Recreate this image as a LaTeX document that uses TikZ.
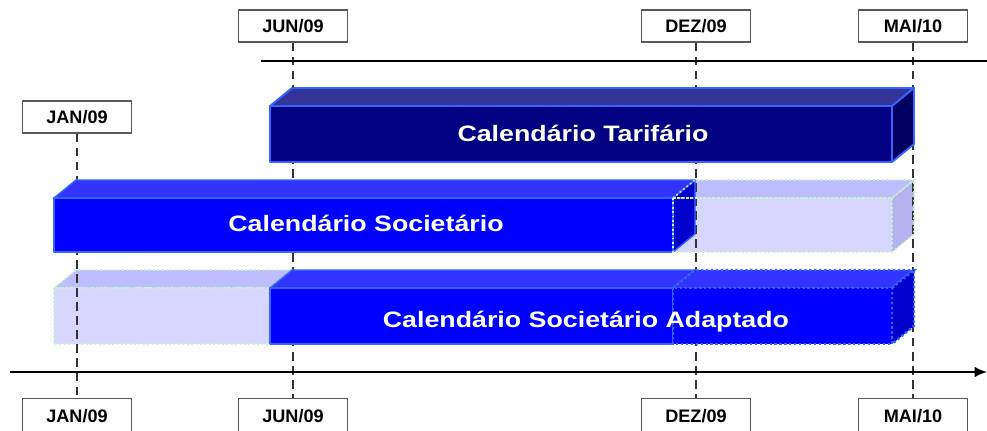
\documentclass[tikz,border=0pt]{standalone}
\usepackage{fontspec}
\setmainfont{Liberation Sans}
\usetikzlibrary{arrows.meta}

\definecolor{marinho}{HTML}{000080}
\definecolor{marinhoTopo}{HTML}{333399}
\definecolor{marinhoLado}{HTML}{00005E}
\definecolor{azul}{HTML}{0000FF}
\definecolor{azulTopo}{HTML}{3333FF}
\definecolor{azulLado}{HTML}{0000CC}
\definecolor{borda}{HTML}{3366FF}
\definecolor{claro}{HTML}{D6D6FF}
\definecolor{claroTopo}{HTML}{BDBDFF}
\definecolor{claroLado}{HTML}{B3B3F0}
\definecolor{verdeClaro}{HTML}{C8F5C8}

% bloco 3D: (#1,#2) canto frontal superior esquerdo, (#3,#4) canto frontal inferior direito
\newcommand{\caixa}[7]{%
  \path[#6] (#1,#2) -- (#1+22,#2-18) -- (#3+22,#2-18) -- (#3,#2) -- cycle;
  \path[#7] (#3,#2) -- (#3+22,#2-18) -- (#3+22,#4-18) -- (#3,#4) -- cycle;
  \path[#5] (#1,#2) rectangle (#3,#4);
}

\begin{document}
\begin{tikzpicture}[x=0.02cm,y=-0.02cm,
    data/.style={draw=gray!70!black,fill=white,line width=0.6pt,inner sep=0pt,
      minimum width=2.18cm,minimum height=0.64cm,font=\fontsize{10.3}{12}\selectfont\bfseries},
    guia/.style={black!80,line width=0.9pt,dash pattern=on 5pt off 3pt},
    rotulo/.style={text=white,anchor=base,xscale=1.2,font=\fontsize{12.7}{15}\selectfont\bfseries},
    tarF/.style={fill=marinho,draw=borda,line width=1.1pt,line join=round},
    tarT/.style={fill=marinhoTopo,draw=borda,line width=1.1pt,line join=round},
    tarL/.style={fill=marinhoLado,draw=borda,line width=1.1pt,line join=round},
    solF/.style={fill=azul,draw=borda,line width=0.8pt,line join=round},
    solT/.style={fill=azulTopo,draw=borda,line width=0.8pt,line join=round},
    solL/.style={fill=azulLado,draw=borda,line width=0.8pt,line join=round},
    clLinha/.style={draw=verdeClaro,line width=0.9pt,dash pattern=on 1pt off 1.5pt},
    ptLinha/.style={draw=borda,line width=1.4pt,dash pattern=on 1.3pt off 1.5pt}]
  \useasboundingbox (0,0) rectangle (987,430);

  % datas
  \node[data] (jan1) at (77,117) {JAN/09};
  \node[data] (jun1) at (293,26) {JUN/09};
  \node[data] (dez1) at (696,26) {DEZ/09};
  \node[data] (mai1) at (913,26) {MAI/10};
  \node[data,anchor=north,minimum height=0.7cm] (jan2) at (77,398) {JAN/09};
  \node[data,anchor=north,minimum height=0.7cm] (jun2) at (293,398) {JUN/09};
  \node[data,anchor=north,minimum height=0.7cm] (dez2) at (696,398) {DEZ/09};
  \node[data,anchor=north,minimum height=0.7cm] (mai2) at (913,398) {MAI/10};

  % partes claras
  \caixa{673}{198}{892}{252}{fill=claro}{fill=claroTopo}{fill=claroLado}
  \caixa{54}{288}{270}{344}{fill=claro,clLinha}{fill=claroTopo,clLinha}{fill=claroLado,clLinha}

  % linhas guia
  \draw[guia] (jan1) -- (jan2);
  \draw[guia] (jun1) -- (jun2);
  \draw[guia] (dez1) -- (dez2);
  \draw[guia] (mai1) -- (mai2);

  % calendario tarifario
  \caixa{270}{106}{892}{162}{tarF}{tarT}{tarL}
  % calendario societario
  \caixa{54}{198}{673}{252}{solF}{solT}{solL}
  \caixa{673}{198}{892}{252}{clLinha}{clLinha}{clLinha}
  % calendario societario adaptado
  \caixa{270}{288}{673}{344}{solF}{solT}{solL}
  \caixa{673}{288}{892}{344}{fill=azul,ptLinha}{fill=azulTopo,ptLinha}{fill=azulLado,ptLinha}

  % eixos
  \coordinate (topoIni) at (261,61);
  \coordinate (topoFim) at (987,61);
  \coordinate (eixoIni) at (10,372);
  \coordinate (eixoFim) at (987,372);
  \draw[line width=1pt] (topoIni) -- (topoFim);
  \draw[line width=1pt,-{Latex[length=7pt,width=6pt]}] (eixoIni) -- (eixoFim);

  \node[rotulo] (tTar) at (583,141) {Calendário Tarifário};
  \node[rotulo] (tSoc) at (366,231) {Calendário Societário};
  \node[rotulo] (tAda) at (586,327) {Calendário Societário Adaptado};
\end{tikzpicture}
\end{document}
